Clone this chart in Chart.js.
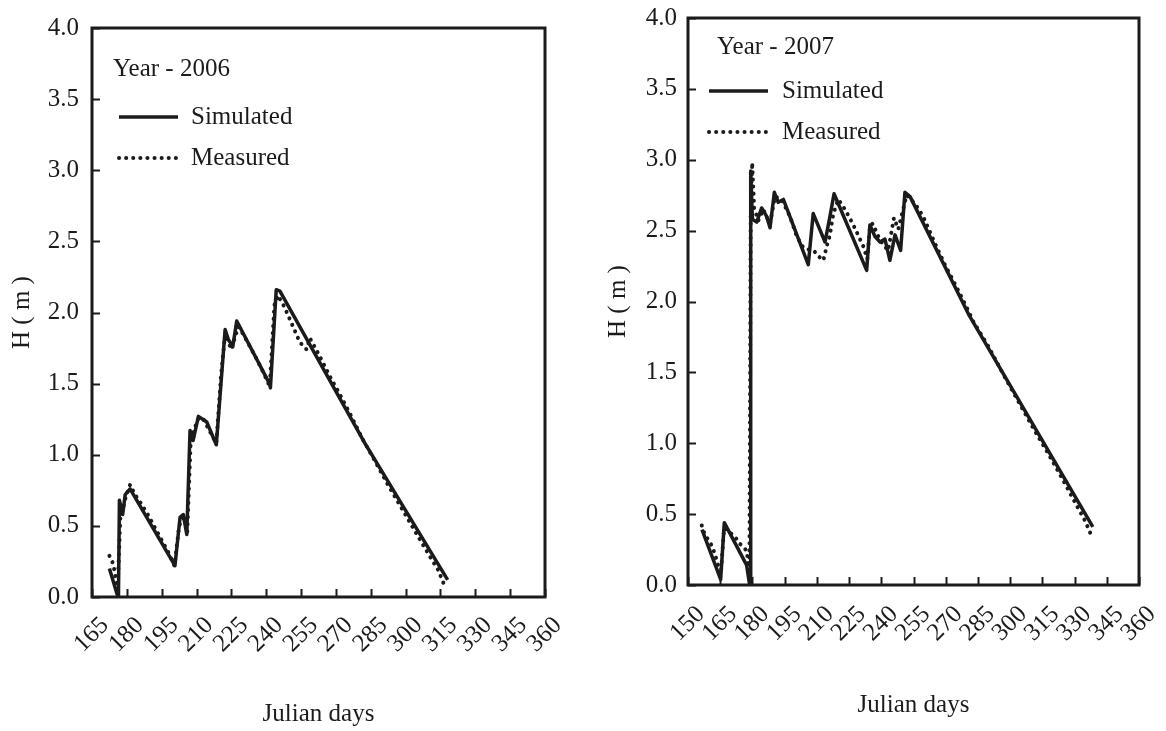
<!DOCTYPE html>
<html><head><meta charset="utf-8">
<script src="https://cdn.jsdelivr.net/npm/chart.js@4.4.0/dist/chart.umd.min.js"></script>
<style>
html,body{margin:0;padding:0;background:#fff;}
#wrap{position:relative;width:1166px;height:731px;overflow:hidden;}
.c{position:absolute;top:0;width:583px;height:731px;}
</style></head><body>
<div id="wrap">
<div class="c" style="left:0"><canvas id="c1"></canvas></div>
<div class="c" style="left:583px"><canvas id="c2"></canvas></div>
</div>
<script>
// ---- Data ----
const xTicks2006 = [165,180,195,210,225,240,255,270,285,300,315,330,345,360];
const xTicks2007 = [150,165,180,195,210,225,240,255,270,285,300,315,330,345,360];
const yTicks = [0,0.5,1.0,1.5,2.0,2.5,3.0,3.5,4.0];

const simDays2006 = [172.5,175.8,176.4,176.8,178.2,179.3,181.4,200.7,202.9,204.3,205.8,207.2,208.5,210.8,214.4,218.5,222.3,223.7,225.6,227.3,241.4,241.8,244.3,245.9,282.5,318.1];
const simH2006    = [0.20,0.02,0.0,0.68,0.58,0.72,0.76,0.22,0.56,0.58,0.44,1.17,1.10,1.27,1.23,1.07,1.88,1.81,1.76,1.94,1.50,1.47,2.16,2.15,1.08,0.12];

const measDays2006 = [172.5,174.2,175.2,176.0,177.3,178.3,179.5,181.4,183.5,186,189,192,195,198,200.5,202.5,204.5,206,207.5,209,211,213,215.5,218.5,220.5,222.3,225,227.9,230,233,236,239,241.5,243.5,245,247.8,250.5,254.5,257.4,258.8,263.1,267.4,271.5,276,281.8,287,292,297,302,307,311,314,316.5];
const measH2006    = [0.29,0.23,0.13,0.05,0.60,0.62,0.70,0.79,0.72,0.66,0.58,0.49,0.40,0.31,0.22,0.50,0.57,0.45,1.10,1.18,1.26,1.25,1.17,1.08,1.55,1.85,1.74,1.90,1.85,1.76,1.67,1.57,1.48,2.05,2.12,2.04,1.94,1.79,1.74,1.82,1.69,1.55,1.43,1.29,1.10,0.95,0.80,0.66,0.52,0.38,0.27,0.19,0.09];

const simDays2007 = [156.5,165.2,166.9,177.3,178.5,178.9,179.2,180.0,182,184.3,186.6,188.2,190.2,192,194.4,206,208.3,213.8,216.1,218,233.2,234.7,237,239.4,241.7,244,246.4,249,251,253.4,281,338.5];
const simH2007    = [0.39,0.04,0.44,0.14,0.02,0.0,2.92,2.58,2.56,2.66,2.60,2.52,2.77,2.70,2.72,2.26,2.62,2.42,2.60,2.76,2.22,2.54,2.46,2.42,2.44,2.29,2.47,2.36,2.77,2.74,1.90,0.41];

const measDays2007 = [156.4,157.5,159.3,161.0,162.5,164.0,165.3,166.8,168.0,169.6,171.9,174.2,175.8,177.3,178.6,179.2,179.9,180.8,182.7,185,188.2,190.5,193.6,197.5,200.6,203.7,205.3,208.5,210.7,213,214.6,216.1,216.9,217.7,220,223.1,227,231.6,233.5,234.7,236,238.6,240.9,243.2,245.9,247.9,251.8,255.7,259.5,265,269.6,275.1,279.7,282.8,290,297,304,311,318,325,331,335,337.5];
const measH2007    = [0.42,0.37,0.32,0.28,0.22,0.14,0.08,0.40,0.39,0.37,0.34,0.29,0.27,0.24,0.10,2.60,2.98,2.66,2.57,2.65,2.55,2.74,2.72,2.60,2.46,2.38,2.37,2.36,2.32,2.29,2.39,2.47,2.55,2.62,2.72,2.65,2.54,2.39,2.30,2.53,2.55,2.46,2.40,2.36,2.59,2.51,2.75,2.69,2.60,2.41,2.26,2.10,1.96,1.86,1.68,1.48,1.29,1.10,0.92,0.73,0.56,0.45,0.36];

const seriesNames = ['Simulated','Measured'];
const yearLabels = ['Year - 2006','Year - 2007'];
const xTitle = 'Julian days';
const yTitle = 'H ( m )';

// ---- Rendering ----
const INK = '#1b1b1b';
const FONT = 'Liberation Serif, Times New Roman, serif';
const zip = (xs, ys) => xs.map((x, i) => ({x: x, y: ys[i]}));

const framePlugin = {
  id: 'frame',
  afterDatasetsDraw(chart, args, o) {
    const {ctx, chartArea: a, scales: {x, y}} = chart;
    ctx.save();
    ctx.strokeStyle = INK;
    ctx.lineWidth = 2;
    x.ticks.forEach(t => {
      const px = Math.round(x.getPixelForValue(t.value)) + 0.5;
      ctx.beginPath(); ctx.moveTo(px, a.bottom); ctx.lineTo(px, a.bottom - 8); ctx.stroke();
    });
    y.ticks.forEach(t => {
      const py = Math.round(y.getPixelForValue(t.value)) + 0.5;
      ctx.beginPath(); ctx.moveTo(a.left, py); ctx.lineTo(a.left + 8, py); ctx.stroke();
    });
    ctx.lineWidth = 3;
    ctx.strokeRect(a.left, a.top, a.right - a.left, a.bottom - a.top);
    // in-plot legend
    ctx.fillStyle = INK;
    ctx.font = '25px ' + FONT;
    ctx.textBaseline = 'middle';
    ctx.textAlign = 'left';
    ctx.fillText(o.year, a.left + o.yearX, a.top + o.yearY);
    chart.data.datasets.forEach((ds, i) => {
      const yy = a.top + o.rows[i];
      ctx.save();
      ctx.strokeStyle = ds.borderColor;
      ctx.lineWidth = ds.borderWidth;
      ctx.lineCap = ds.borderCapStyle || 'butt';
      ctx.setLineDash(ds.borderDash || []);
      ctx.beginPath(); ctx.moveTo(a.left + o.sample[0], yy); ctx.lineTo(a.left + o.sample[1], yy); ctx.stroke();
      ctx.restore();
      ctx.fillText(ds.label, a.left + o.textX, yy);
    });
    ctx.restore();
  }
};

function makeChart(id, simD, simH, measD, measH, xTicks, lay) {
  const fontT = {family: FONT, size: 25};
  return new Chart(document.getElementById(id), {
    type: 'line',
    data: {
      datasets: [
        {label: seriesNames[0], data: zip(simD, simH), borderColor: INK, borderWidth: 3.5,
         pointRadius: 0, tension: 0, fill: false, borderJoinStyle: 'round'},
        {label: seriesNames[1], data: zip(measD, measH), borderColor: INK, borderWidth: 4,
         borderDash: [0.1, 7], borderCapStyle: 'round', pointRadius: 0, tension: 0, fill: false}
      ]
    },
    options: {
      responsive: true, maintainAspectRatio: false, animation: false, devicePixelRatio: 1,
      layout: {padding: {top: lay.top, right: lay.right, left: 0, bottom: 0}},
      plugins: {legend: {display: false}, tooltip: {enabled: false},
        frame: {year: lay.year, yearX: lay.yearX, yearY: lay.yearY, rows: lay.rows, sample: lay.sample, textX: lay.textX}},
      scales: {
        x: {type: 'linear', min: xTicks[0], max: xTicks[xTicks.length - 1],
          afterBuildTicks: s => { s.ticks = xTicks.map(v => ({value: v})); },
          afterFit: s => { s.height = lay.xh; s.paddingLeft = 0; s.paddingRight = 0; s.paddingTop = 0; s.paddingBottom = 0; },
          grid: {display: false, drawTicks: false}, border: {display: false},
          ticks: {autoSkip: false, minRotation: 45, maxRotation: 45, color: INK, font: fontT,
            padding: lay.xpad, labelOffset: lay.xoff, callback: v => String(v)},
          title: {display: true, text: xTitle, color: INK, font: fontT, padding: {top: 0, bottom: lay.xtpad}}},
        y: {type: 'linear', min: 0, max: 4,
          afterBuildTicks: s => { s.ticks = yTicks.map(v => ({value: v})); },
          afterFit: s => { s.width = lay.yw; s.paddingLeft = 0; s.paddingRight = 0; s.paddingTop = 0; s.paddingBottom = 0; },
          grid: {display: false, drawTicks: false}, border: {display: false},
          ticks: {color: INK, font: fontT, padding: lay.ypad, callback: v => Number(v).toFixed(1)},
          title: {display: true, text: yTitle, color: INK, font: fontT, padding: {top: lay.ytpad, bottom: 0}}}
      }
    },
    plugins: [framePlugin]
  });
}

makeChart('c1', simDays2006, simH2006, measDays2006, measH2006, xTicks2006,
  {top: 28, right: 38, xh: 134, yw: 92, xpad: 14, xoff: 13, xtpad: 2, ypad: 13, ytpad: 7,
   year: yearLabels[0], yearX: 21, yearY: 41, rows: [89, 130], sample: [27, 86], textX: 99});
makeChart('c2', simDays2007, simH2007, measDays2007, measH2007, xTicks2007,
  {top: 18, right: 27, xh: 146, yw: 105, xpad: 15, xoff: 13, xtpad: 11, ypad: 11, ytpad: 20,
   year: yearLabels[1], yearX: 29, yearY: 29, rows: [73, 114], sample: [21, 80], textX: 94});
</script>
</body></html>
